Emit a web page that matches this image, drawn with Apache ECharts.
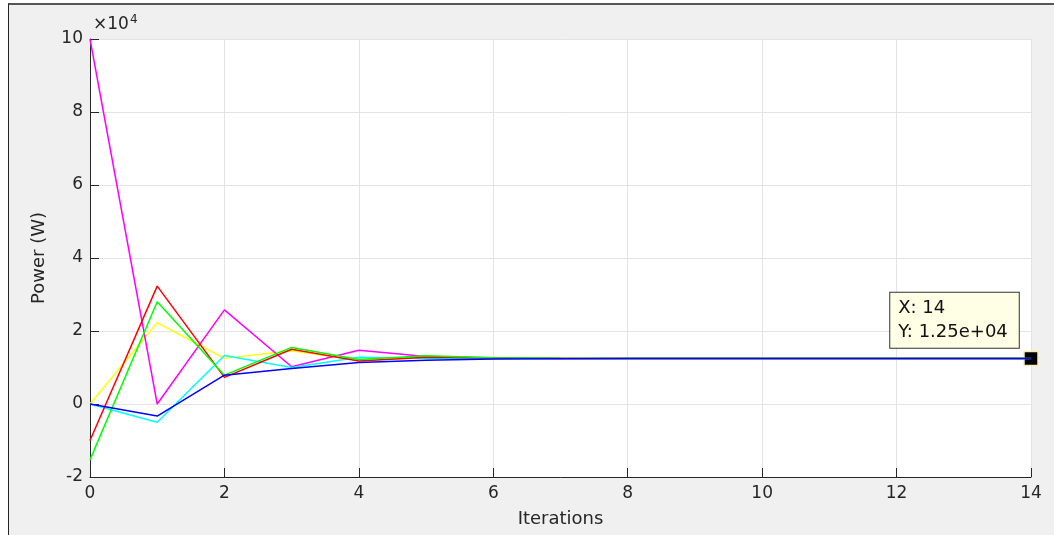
<!DOCTYPE html>
<html>
<head>
<meta charset="utf-8">
<script src="https://cdn.jsdelivr.net/npm/echarts@6/dist/echarts.min.js"></script>
<style>
  body { margin: 0; background: #fff; }
  #frame { position: absolute; left: 8px; top: 3px; width: 1046px; height: 532px;
           background: #f0f0f0; border-top: 2px solid #555; border-left: 1px solid #222; box-sizing: border-box; }
  #main { position: absolute; left: 0; top: 0; width: 1054px; height: 535px; }
</style>
</head>
<body>
<div id="frame"></div>
<div id="main"></div>
<script>
// iterations 0..14
const iterations = [0, 1, 2, 3, 4, 5, 6, 7, 8, 9, 10, 11, 12, 13, 14];
// power (W) per agent
const magenta = [100000, 0, 25800, 10200, 14700, 13000, 12700, 12550, 12500, 12500, 12500, 12500, 12500, 12500, 12500];
const red     = [-10000, 32300, 7300, 15000, 11800, 12800, 12600, 12500, 12500, 12500, 12500, 12500, 12500, 12500, 12500];
const green   = [-15300, 28000, 7900, 15500, 12200, 13200, 12700, 12550, 12500, 12500, 12500, 12500, 12500, 12500, 12500];
const yellow  = [0, 22300, 12500, 14600, 12000, 12700, 12550, 12500, 12500, 12500, 12500, 12500, 12500, 12500, 12500];
const cyan    = [0, -5000, 13300, 10000, 12800, 12500, 12500, 12500, 12500, 12500, 12500, 12500, 12500, 12500, 12500];
const blue    = [0, -3300, 7900, 9700, 11400, 12000, 12300, 12400, 12450, 12500, 12500, 12500, 12500, 12500, 12500];
const yTicks = [-2, 0, 2, 4, 6, 8, 10];   // ×10^4
const xTicks = [0, 2, 4, 6, 8, 10, 12, 14];

const font = '"DejaVu Sans", sans-serif';
const chart = echarts.init(document.getElementById('main'));

function mk(name, color, vals, z) {
  return {
    name: name, type: 'line', symbol: 'none', z: z,
    lineStyle: { color: color, width: 1.5 },
    itemStyle: { color: color },
    data: iterations.map((x, i) => [x, vals[i]])
  };
}

const lastX = iterations[iterations.length - 1];
const lastY = blue[blue.length - 1];
const expStr = lastY.toExponential(2).replace(/e\+(\d)$/, 'e+0$1');

const blueSeries = mk('blue', '#0000ff', blue, 8);
blueSeries.markPoint = {
  symbol: 'rect', symbolSize: 14,
  itemStyle: { color: '#000', borderColor: '#f3eeb8', borderWidth: 1.5 },
  label: {
    show: true,
    position: [-133, -58],
    align: 'left', verticalAlign: 'top',
    formatter: 'X: ' + lastX + '\nY: ' + expStr,
    fontFamily: font, fontSize: 18, color: '#111', lineHeight: 24,
    backgroundColor: '#ffffe6', borderColor: '#333', borderWidth: 1,
    padding: [4, 11, 3, 8]
  },
  data: [{ coord: [lastX, lastY] }]
};

chart.setOption({
  animation: false,
  title: {
    left: 88, top: 9,
    text: '{a|×10}{b|4}',
    textStyle: {
      fontWeight: 'normal',
      rich: {
        a: { fontFamily: font, fontSize: 17, color: '#262626', fontWeight: 'normal' },
        b: { fontFamily: font, fontSize: 12, color: '#262626', fontWeight: 'normal', padding: [0, 0, 10, 1] }
      }
    }
  },
  grid: { left: 90, top: 39, width: 941, height: 438, show: true, backgroundColor: '#fff', borderWidth: 0 },
  xAxis: {
    type: 'value', min: 0, max: 14, interval: 2,
    name: 'Iterations', nameLocation: 'middle', nameGap: 33,
    nameTextStyle: { fontFamily: font, fontSize: 18, color: '#262626' },
    axisLine: { onZero: false, lineStyle: { color: '#262626', width: 1 } },
    axisTick: { inside: true, length: 9, lineStyle: { color: '#262626' } },
    axisLabel: { fontFamily: font, fontSize: 17, color: '#262626', margin: 8,
                 formatter: v => xTicks.includes(v) ? String(v) : '' },
    splitLine: { show: true, lineStyle: { color: '#e3e3e3', width: 1 } }
  },
  yAxis: {
    type: 'value', min: -20000, max: 100000, interval: 20000,
    name: 'Power (W)', nameLocation: 'middle', nameGap: 42,
    nameTextStyle: { fontFamily: font, fontSize: 18, color: '#262626' },
    axisLine: { show: true, lineStyle: { color: '#262626', width: 1 } },
    axisTick: { show: true, inside: true, length: 9, lineStyle: { color: '#262626' } },
    axisLabel: { fontFamily: font, fontSize: 17, color: '#262626', margin: 7,
                 formatter: v => { const t = Math.round(v / 1e4); return yTicks.includes(t) ? String(t) : ''; } },
    splitLine: { show: true, lineStyle: { color: '#e3e3e3', width: 1 } }
  },
  series: [
    mk('yellow', '#ffff00', yellow, 2),
    mk('magenta', '#ff00ff', magenta, 3),
    mk('cyan', '#00ffff', cyan, 4),
    mk('red', '#ff0000', red, 5),
    mk('green', '#00ff00', green, 6),
    blueSeries
  ]
});
</script>
</body>
</html>
